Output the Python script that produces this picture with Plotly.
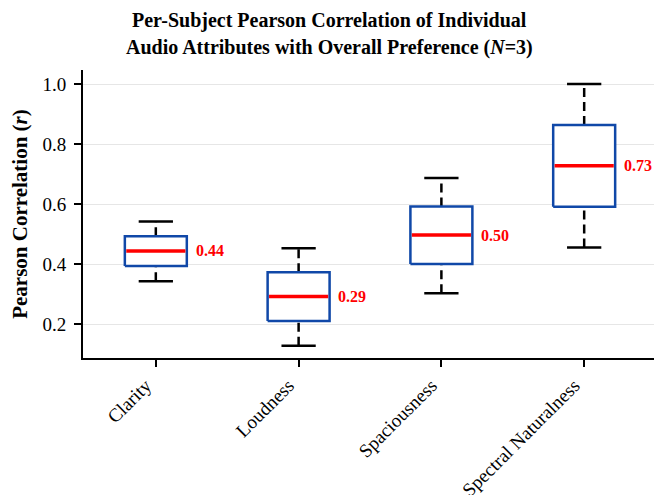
import numpy as np
import plotly.graph_objects as go

# ---- data (per-subject r values, N=3) ----
categories = ["Clarity", "Loudness", "Spaciousness", "Spectral Naturalness"]
clarity = [0.343, 0.444, 0.542]
loudness = [0.128, 0.292, 0.453]
spaciousness = [0.303, 0.497, 0.687]
spectral_naturalness = [0.455, 0.728, 1.000]
series = [clarity, loudness, spaciousness, spectral_naturalness]
y_ticks = [0.2, 0.4, 0.6, 0.8, 1.0]
title_lines = ["Per-Subject Pearson Correlation of Individual",
               "Audio Attributes with Overall Preference (<i>N</i>=3)"]

FONT = "Liberation Serif, Times New Roman, serif"
BLUE = "#1048A8"
RED = "#FF0000"
HW = 0.217   # half box width
CW = 0.12    # half cap width

fig = go.Figure()
for i, vals in enumerate(series):
    v = np.asarray(vals, dtype=float)
    mn, q1, med, q3, mx = np.min(v), np.percentile(v, 25), np.median(v), np.percentile(v, 75), np.max(v)
    # whiskers
    fig.add_trace(go.Scatter(x=[i, i, None, i, i], y=[mn, q1, None, q3, mx], mode="lines",
                             line=dict(color="black", width=2.5, dash="9px,5px"),
                             hoverinfo="skip", showlegend=False))
    # caps
    fig.add_trace(go.Scatter(x=[i - CW, i + CW, None, i - CW, i + CW], y=[mn, mn, None, mx, mx],
                             mode="lines", line=dict(color="black", width=2.5),
                             hoverinfo="skip", showlegend=False))
    # box
    fig.add_trace(go.Scatter(x=[i - HW, i + HW, i + HW, i - HW, i - HW], y=[q1, q1, q3, q3, q1],
                             mode="lines", fill="toself", fillcolor="white",
                             line=dict(color=BLUE, width=2.5),
                             hoverinfo="skip", showlegend=False))
    # median
    fig.add_trace(go.Scatter(x=[i - HW + 0.01, i + HW - 0.01], y=[med, med], mode="lines",
                             line=dict(color=RED, width=3.5),
                             hoverinfo="skip", showlegend=False))
    fig.add_annotation(x=i + 0.265, y=med, text=f"<b>{med:.2f}</b>", showarrow=False,
                       xanchor="left", yanchor="middle",
                       font=dict(family=FONT, size=16, color=RED))

# two-line title (explicit line spacing), centred on the figure
for k, line in enumerate(title_lines):
    fig.add_annotation(xref="paper", yref="paper", x=0.4303, y=1, xanchor="center", yanchor="middle",
                       yshift=50 - 27 * k, showarrow=False, text=f"<b>{line}</b>", borderpad=0,
                       font=dict(family=FONT, size=20, color="black"))

fig.update_layout(
    width=654, height=487,
    margin=dict(l=75, r=5, t=62, b=137),
    paper_bgcolor="white", plot_bgcolor="white",
    font=dict(family=FONT, color="black"),
    showlegend=False,
)
fig.update_xaxes(range=[-0.51, 3.51], tickmode="array", tickvals=list(range(len(categories))),
                 ticktext=categories, tickangle=-45, tickfont=dict(family=FONT, size=19),
                 ticklabelshift=-10,
                 showline=True, linecolor="black", linewidth=2, ticks="outside", ticklen=7,
                 tickwidth=1.5, tickcolor="black", showgrid=False, zeroline=False,
                 automargin=False)
fig.update_yaxes(range=[0.087, 1.047], tickmode="array", tickvals=y_ticks,
                 ticktext=[f"{t:.1f}" for t in y_ticks], tickfont=dict(family=FONT, size=19),
                 ticklabelstandoff=4,
                 showline=True, linecolor="black", linewidth=2, ticks="outside", ticklen=7,
                 tickwidth=1.5, tickcolor="black", showgrid=True, gridcolor="#E6E6E6",
                 gridwidth=1, zeroline=False, automargin=False,
                 title=dict(text="<b>Pearson Correlation (<i>r</i>)</b>",
                            font=dict(family=FONT, size=21), standoff=9))

fig.write_html("out.html")
